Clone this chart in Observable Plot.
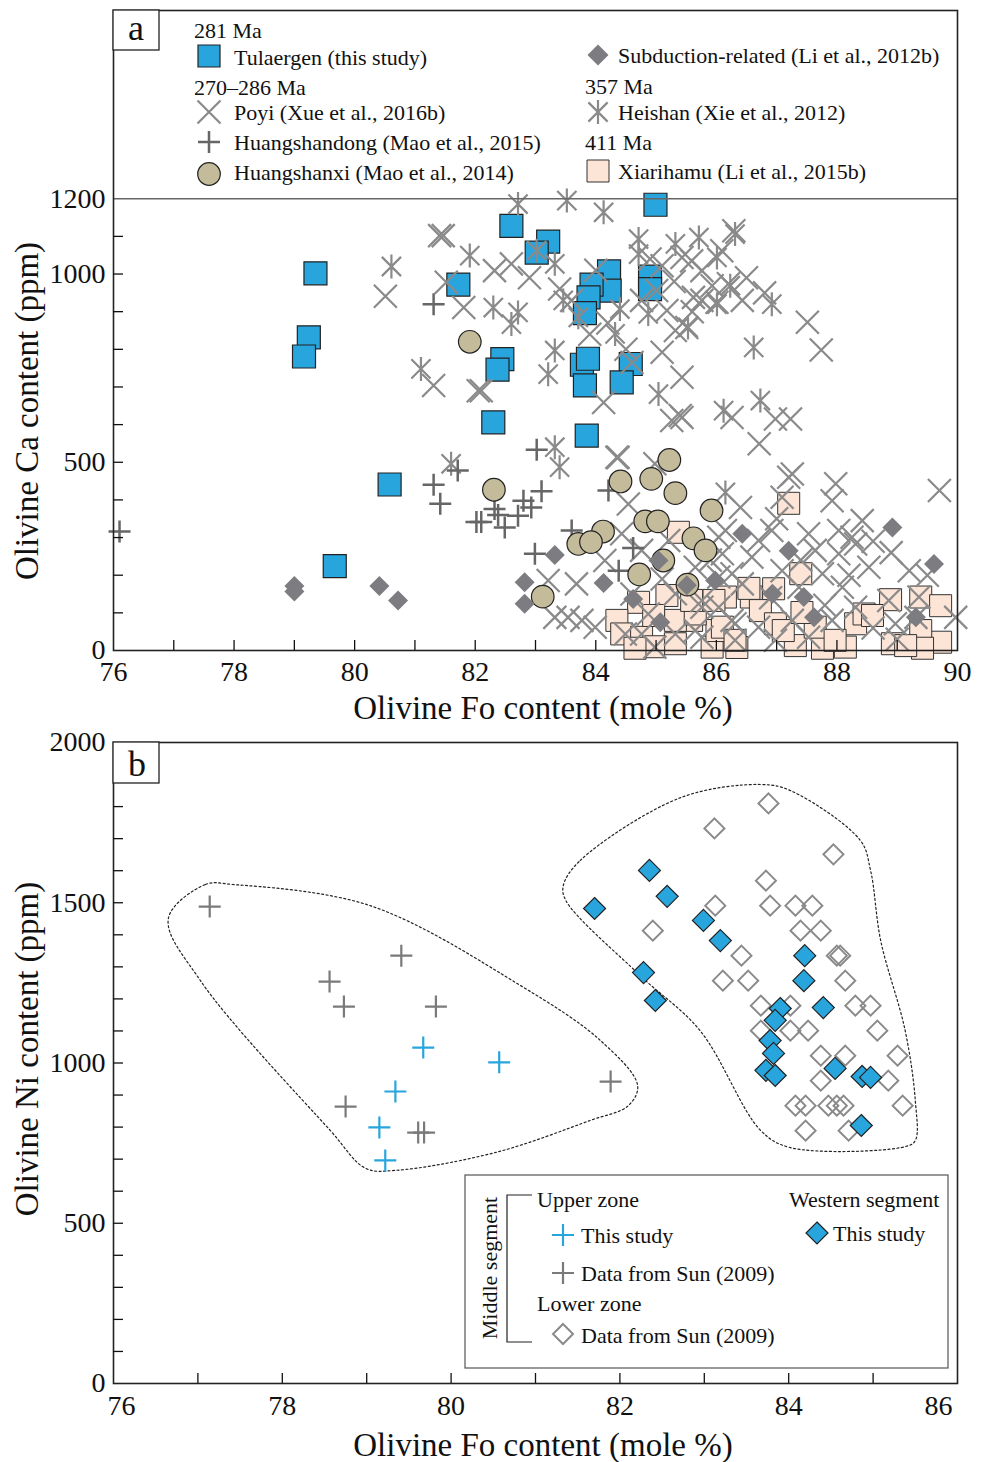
<!DOCTYPE html>
<html>
<head>
<meta charset="utf-8">
<script src="https://cdn.jsdelivr.net/npm/d3@7"></script>
<script src="https://cdn.jsdelivr.net/npm/@observablehq/plot@0.6"></script>
<style>
  html, body { margin: 0; padding: 0; background: #fff; }
  #chart svg { display: block; }
</style>
</head>
<body>
<div id="chart"></div>
<script>
// ---------------- DATA: panel a (Fo mole %, Ca ppm) ----------------
const tulaergen = [[79.35,1002],[79.24,832],[79.16,781],[80.58,441],[79.67,224],[81.72,972],[84.99,1184],[82.60,1128],[83.21,1086],[83.02,1057],[84.22,1007],[84.23,956],[84.90,993],[84.90,960],[83.93,972],[83.88,938],[83.82,896],[82.45,774],[82.37,746],[83.77,759],[83.87,775],[83.82,704],[84.58,761],[84.43,712],[82.30,606],[83.85,571]];
const huangshanxi = [[81.91,820],[82.31,427],[84.41,449],[84.92,456],[85.22,506],[85.32,418],[85.92,372],[84.82,343],[85.03,343],[84.12,316],[83.71,283],[83.92,288],[85.62,298],[85.82,266],[85.12,239],[84.72,202],[85.52,175],[83.12,143]];
const huangshandong = [[76.10,316],[81.31,920],[81.31,440],[81.42,390],[81.71,478],[82.02,341],[83.02,533],[83.10,423],[82.80,398],[82.93,380],[82.32,376],[82.10,341],[82.49,327],[82.71,358],[83.60,319],[82.99,257],[84.21,425],[84.62,272],[84.38,212],[82.38,360]];
const subduction = [[79.00,171],[79.00,157],[80.41,171],[80.72,133],[83.32,254],[82.82,181],[82.82,124],[84.13,179],[84.62,137],[85.04,239],[85.51,173],[85.07,75],[86.43,310],[88.92,327],[89.61,230],[87.20,265],[86.93,151],[87.45,142],[87.62,88],[89.31,88],[85.98,186]];
const xiarihamu = [[87.20,391],[88.89,135],[89.39,142],[89.72,119],[88.92,18],[89.72,22],[89.39,53],[89.42,6],[86.58,142],[86.95,164],[87.40,204],[86.73,106],[88.31,71],[88.45,97],[88.14,9],[87.76,6],[87.31,13],[86.34,8],[85.93,9],[85.59,80],[86.01,53],[86.98,71],[87.64,62],[85.37,314],[85.18,146],[84.71,128],[84.35,80],[84.43,44],[84.76,35],[85.32,80],[85.32,18],[85.65,97],[86.15,142],[86.10,62],[86.31,27],[84.96,10],[84.65,6],[86.54,165],[87.11,53],[87.97,27],[87.42,101],[88.59,93],[89.14,13],[85.96,133],[84.96,93],[85.59,133]];
const poyi = [[86.71,549],[87.20,460],[87.98,443],[87.92,398],[89.70,425],[87.09,407],[88.42,345],[88.25,301],[88.31,283],[88.03,319],[86.04,301],[86.70,292],[86.92,319],[87.53,310],[87.64,266],[86.59,248],[88.03,257],[88.53,221],[89.20,212],[86.04,195],[86.43,177],[87.09,212],[87.76,204],[88.09,168],[87.37,168],[88.86,133],[89.36,142],[89.97,88],[88.97,71],[89.31,88],[85.76,115],[86.26,80],[86.70,62],[87.26,80],[87.92,80],[88.31,115],[87.53,35],[85.76,35],[86.98,27],[86.31,27],
[84.35,513],[84.54,389],[84.98,496],[84.43,310],[84.15,239],[83.68,177],[83.21,186],[83.54,88],[83.77,80],[83.99,62],[83.32,88],[84.76,266],[85.21,292],[85.65,221],[86.15,319],[86.10,257],[86.26,204],[84.49,44],[85.32,151],[85.76,133],[86.04,115],[86.31,71],[84.87,97],[85.32,44],[85.65,53],[84.98,9],[84.76,44],
[81.41,1102],[81.47,1102],[80.51,941],[81.52,978],[81.81,911],[81.31,704],[82.05,690],[82.32,1009],[82.60,1027],[85.43,1044],[86.20,974],[86.29,1115],[85.62,938],[86.01,925],[87.51,872],[87.74,798],[85.43,726],[85.43,619],[86.26,619],[86.98,615],[87.23,615],[87.26,469],[85.32,850],[85.51,858],[85.10,792],[84.60,765],[82.10,690],[84.13,659],[85.26,611],[85.40,624],[84.37,513],[85.10,1022],[85.76,1009],[86.09,1062],[85.93,969],[85.59,1035],[84.76,930],[85.01,956],[85.18,903],[85.76,930],[86.43,930],
[88.6,290],[88.9,260],[87.4,240],[86.9,140],[87.8,120],[88.6,60],[89.0,30],[85.1,190],[84.6,150],[88.2,200],[89.5,200],[87.0,350],[86.4,380],[85.9,240],
[83.9,840],[84.2,870],[84.5,800],[83.6,930],[84.0,1010],[85.3,980],[85.6,900],[86.5,990],[86.8,950],[84.9,1040],[82.9,990],[83.4,960]];
const heishan = [[80.61,1020],[81.10,748],[81.60,496],[82.71,1186],[83.52,1195],[84.13,1164],[81.91,1049],[83.02,1062],[83.32,1027],[84.71,1093],[84.71,1053],[85.32,1080],[86.31,1106],[85.71,1097],[86.01,1044],[86.23,969],[86.01,920],[86.92,920],[85.53,858],[86.62,805],[86.12,637],[86.73,664],[82.30,911],[82.71,898],[82.60,867],[83.46,930],[83.71,885],[84.40,907],[83.32,797],[83.21,734],[85.04,681],[83.32,540],[83.40,487],[86.15,420],[84.32,841],[84.87,894]];
const xTicksA = [76,78,80,82,84,86,88,90];
const yTicksA = [0,500,1000,1200];

// ---------------- DATA: panel b (Fo mole %, Ni ppm) ----------------
const upperThisStudy = [[79.67,1048],[80.57,1002],[79.34,911],[79.15,799],[79.22,696]];
const upperSun = [[77.14,1488],[78.56,1254],[78.73,1176],[79.41,1335],[79.82,1176],[78.75,864],[79.61,783],[79.68,783],[81.89,942]];
const westernThisStudy = [[82.35,1601],[81.70,1482],[82.56,1520],[82.99,1445],[83.19,1382],[84.19,1335],[82.28,1282],[82.42,1195],[84.18,1257],[84.41,1173],[83.90,1170],[83.84,1133],[83.78,1070],[83.82,1030],[83.73,977],[83.84,961],[84.55,983],[84.87,958],[84.97,955],[84.86,805]];
const lowerSun = [[83.76,1810],[83.12,1732],[84.53,1651],[83.73,1569],[83.13,1491],[82.39,1413],[83.78,1491],[84.08,1491],[84.28,1491],[83.44,1335],[83.22,1257],[83.52,1257],[84.14,1413],[84.38,1413],[84.57,1335],[84.61,1335],[84.67,1257],[83.67,1179],[84.02,1179],[84.23,1101],[84.38,1023],[84.67,1023],[84.79,1179],[84.97,1179],[85.05,1101],[85.29,1023],[85.18,945],[85.35,867],[84.38,945],[84.08,867],[84.20,867],[84.20,789],[84.47,867],[84.57,867],[84.65,867],[84.71,789],[83.67,1101],[84.02,1101]];
const hullMiddle = [[76.65,1451],[77.09,1557],[77.41,1557],[79.04,1491],[80.82,1242],[81.77,1070],[82.21,930],[82.10,867],[81.65,821],[80.53,721],[79.34,665],[78.99,671],[78.57,789],[77.03,1257]];
const hullWestern = [[81.33,1554],[81.53,1632],[82.72,1828],[83.67,1869],[84.02,1850],[84.85,1694],[84.97,1601],[85.09,1382],[85.38,1101],[85.50,883],[85.50,758],[85.38,739],[84.02,736],[83.67,789],[82.95,1101],[82.24,1273],[81.36,1507]];
const xTicksB = [78,80,82,84];
const yTicksB = [0,500,1000,1500,2000];

// ---------------- symbols ----------------
const R = s => Math.sqrt(s / Math.PI);
const symSquare = {draw(c, s){const r=R(s); c.moveTo(-r,-r); c.lineTo(r,-r); c.lineTo(r,r); c.lineTo(-r,r); c.closePath();}};
const symDiamond = {draw(c, s){const r=R(s); c.moveTo(0,-r); c.lineTo(r,0); c.lineTo(0,r); c.lineTo(-r,0); c.closePath();}};
const symTimes = {draw(c, s){const r=R(s); c.moveTo(-r,-r); c.lineTo(r,r); c.moveTo(r,-r); c.lineTo(-r,r);}};
const symPlus = {draw(c, s){const r=R(s); c.moveTo(-r,0); c.lineTo(r,0); c.moveTo(0,-r); c.lineTo(0,r);}};
const symStar = {draw(c, s){const r=R(s); const a=r*0.8; c.moveTo(-a,-a); c.lineTo(a,a); c.moveTo(a,-a); c.lineTo(-a,a); c.moveTo(0,-r); c.lineTo(0,r);}};
const symCircle = {draw(c, s){const r=R(s); c.moveTo(r,0); c.arc(0,0,r,0,2*Math.PI);}};

const BLUE = "#29a5dd", TAN = "#c4bb9b", PINK = "#fce4d6", GX = "#8a8a8a", GP = "#666666", GD = "#7d7c80";
const FONT = "'Liberation Serif', 'Times New Roman', serif";
const W = 983;
const fmt = d => String(d);

function dot(data, sym, r, o) {
  return Plot.dot(data, {x: d => d[0], y: d => d[1], symbol: sym, r, ...o});
}

// ---------------- panel a ----------------
const a = Plot.plot({
  width: W, height: 725,
  marginLeft: 113, marginRight: 26, marginTop: 10, marginBottom: 75,
  x: {domain: [76, 90]},
  y: {domain: [0, 1700]},
  style: {fontFamily: FONT, fontSize: "28px", color: "#111", background: "#fff", overflow: "visible"},
  marks: [
    dot(xiarihamu, symSquare, 11, {fill: PINK, stroke: "#333", strokeWidth: 1}),
    dot(tulaergen, symSquare, 11.5, {fill: BLUE, stroke: "#222", strokeWidth: 1.2}),
    dot(poyi, symTimes, 11.5, {fill: "none", stroke: GX, strokeWidth: 2.2}),
    dot(heishan, symStar, 12, {fill: "none", stroke: GX, strokeWidth: 2.2}),
    dot(huangshandong, symPlus, 11, {fill: "none", stroke: GP, strokeWidth: 2.5}),
    dot(huangshanxi, symCircle, 11.3, {fill: TAN, stroke: "#222", strokeWidth: 1.2}),
    dot(subduction, symDiamond, 10, {fill: GD, stroke: "none"}),
    Plot.ruleY([1200], {stroke: "#666", strokeWidth: 1.5}),
    Plot.frame({stroke: "#222", strokeWidth: 1.6}),
    Plot.axisX({ticks: d3.range(77, 90), tickSize: -10, tickFormat: () => "", strokeWidth: 1.3, label: null}),
    Plot.axisX({ticks: xTicksA, tickSize: 0, tickPadding: 11, tickFormat: fmt, label: null}),
    Plot.axisY({ticks: d3.range(100, 1200, 100), tickSize: -10, tickFormat: () => "", strokeWidth: 1.3, label: null}),
    Plot.axisY({ticks: yTicksA, tickSize: 0, tickPadding: 8, tickFormat: fmt, label: null})
  ]
});

// ---------------- panel b ----------------
const b = Plot.plot({
  width: W, height: 737,
  marginLeft: 113, marginRight: 26, marginTop: 17, marginBottom: 79,
  x: {domain: [76, 86]},
  y: {domain: [0, 2000]},
  style: {fontFamily: FONT, fontSize: "28px", color: "#111", background: "#fff", overflow: "visible"},
  marks: [
    Plot.line(hullMiddle, {x: d => d[0], y: d => d[1], curve: "catmull-rom-closed", stroke: "#222", strokeWidth: 1.2, strokeDasharray: "2,2.5"}),
    Plot.line(hullWestern, {x: d => d[0], y: d => d[1], curve: "catmull-rom-closed", stroke: "#222", strokeWidth: 1.2, strokeDasharray: "2,2.5"}),
    dot(lowerSun, symDiamond, 10, {fill: "none", stroke: GX, strokeWidth: 2}),
    dot(westernThisStudy, symDiamond, 11, {fill: BLUE, stroke: "#222", strokeWidth: 1.2}),
    dot(upperSun, symPlus, 11, {fill: "none", stroke: "#7a7a7a", strokeWidth: 2.2}),
    dot(upperThisStudy, symPlus, 11, {fill: "none", stroke: BLUE, strokeWidth: 2.2}),
    Plot.frame({stroke: "#222", strokeWidth: 1.6}),
    Plot.axisX({ticks: d3.range(77, 86), tickSize: -10, tickFormat: () => "", strokeWidth: 1.3, label: null}),
    Plot.axisX({ticks: xTicksB, tickSize: 0, tickPadding: 12, tickFormat: fmt, label: null}),
    Plot.text([76], {x: d => d, frameAnchor: "bottom", lineAnchor: "top", dy: 12, dx: 8, text: fmt, fontSize: 28}),
    Plot.text([86], {x: d => d, frameAnchor: "bottom", lineAnchor: "top", dy: 12, dx: -19, text: fmt, fontSize: 28}),
    Plot.axisY({ticks: d3.range(100, 2000, 100), tickSize: -10, tickFormat: () => "", strokeWidth: 1.3, label: null}),
    Plot.axisY({ticks: yTicksB, tickSize: 0, tickPadding: 8, tickFormat: fmt, label: null})
  ]
});

document.getElementById("chart").append(a, b);

// ---------------- annotations & legends ----------------
function addText(svg, x, y, str, o = {}) {
  const t = svg.append("text").attr("x", x).attr("y", y).text(str)
    .attr("font-family", FONT).attr("font-size", o.size || 22).attr("fill", "#111")
    .attr("dominant-baseline", "central").attr("text-anchor", o.anchor || "start");
  if (o.rotate) t.attr("transform", `rotate(-90 ${x} ${y})`);
  return t;
}
function addSym(svg, x, y, sym, r, o) {
  return svg.append("path").attr("d", d3.symbol(sym, r * r * Math.PI)())
    .attr("transform", `translate(${x},${y})`)
    .attr("fill", o.fill || "none").attr("stroke", o.stroke || "none").attr("stroke-width", o.sw || 1);
}

const sa = d3.select(a);
sa.append("rect").attr("x", 113).attr("y", 10).attr("width", 46).attr("height", 40).attr("fill", "#fff").attr("stroke", "#222").attr("stroke-width", 1.3);
addText(sa, 136, 28, "a", {size: 36, anchor: "middle"});
addText(sa, 543, 708, "Olivine Fo content (mole %)", {size: 33, anchor: "middle"});
addText(sa, 27, 411, "Olivine Ca content (ppm)", {size: 33, anchor: "middle", rotate: true});
// legend a, left column
addText(sa, 194, 30, "281 Ma");
addSym(sa, 209, 56, symSquare, 11, {fill: BLUE, stroke: "#222", sw: 1.2});
addText(sa, 234, 57, "Tulaergen (this study)");
addText(sa, 194, 87, "270–286 Ma");
addSym(sa, 209, 112, symTimes, 11.5, {stroke: GX, sw: 2.2});
addText(sa, 234, 112, "Poyi (Xue et al., 2016b)");
addSym(sa, 209, 142, symPlus, 11, {stroke: GP, sw: 2.5});
addText(sa, 234, 142, "Huangshandong (Mao et al., 2015)");
addSym(sa, 209, 174, symCircle, 11.3, {fill: TAN, stroke: "#222", sw: 1.2});
addText(sa, 234, 172, "Huangshanxi (Mao et al., 2014)");
// legend a, right column
addSym(sa, 598, 55, symDiamond, 10.5, {fill: GD});
addText(sa, 618, 55, "Subduction-related (Li et al., 2012b)");
addText(sa, 585, 86, "357 Ma");
addSym(sa, 598, 112, symStar, 12, {stroke: GX, sw: 2.2});
addText(sa, 618, 112, "Heishan (Xie et al., 2012)");
addText(sa, 585, 142, "411 Ma");
addSym(sa, 598, 171, symSquare, 11, {fill: PINK, stroke: "#333", sw: 1});
addText(sa, 618, 171, "Xiarihamu (Li et al., 2015b)");

const sb = d3.select(b);
sb.append("rect").attr("x", 113).attr("y", 17).attr("width", 46).attr("height", 41).attr("fill", "#fff").attr("stroke", "#222").attr("stroke-width", 1.3);
addText(sb, 137, 39, "b", {size: 36, anchor: "middle"});
addText(sb, 543, 720, "Olivine Fo content (mole %)", {size: 33, anchor: "middle"});
addText(sb, 27, 324, "Olivine Ni content (ppm)", {size: 33, anchor: "middle", rotate: true});
// legend b
sb.append("rect").attr("x", 465).attr("y", 450).attr("width", 483).attr("height", 193).attr("fill", "#fff").attr("stroke", "#555").attr("stroke-width", 1.2);
sb.append("path").attr("d", "M532,470H507V617H532").attr("fill", "none").attr("stroke", "#222").attr("stroke-width", 1.2);
addText(sb, 489, 543, "Middle segment", {size: 22, anchor: "middle", rotate: true});
addText(sb, 537, 474, "Upper zone");
addSym(sb, 563, 510, symPlus, 11, {stroke: BLUE, sw: 2.2});
addText(sb, 581, 510, "This study");
addSym(sb, 563, 548, symPlus, 11, {stroke: "#7a7a7a", sw: 2.2});
addText(sb, 581, 548, "Data from Sun (2009)");
addText(sb, 537, 578, "Lower zone");
addSym(sb, 563, 609, symDiamond, 10, {stroke: GX, sw: 2});
addText(sb, 581, 610, "Data from Sun (2009)");
addText(sb, 789, 474, "Western segment");
addSym(sb, 817, 508, symDiamond, 11, {fill: BLUE, stroke: "#222", sw: 1.2});
addText(sb, 833, 508, "This study");
</script>
</body>
</html>
